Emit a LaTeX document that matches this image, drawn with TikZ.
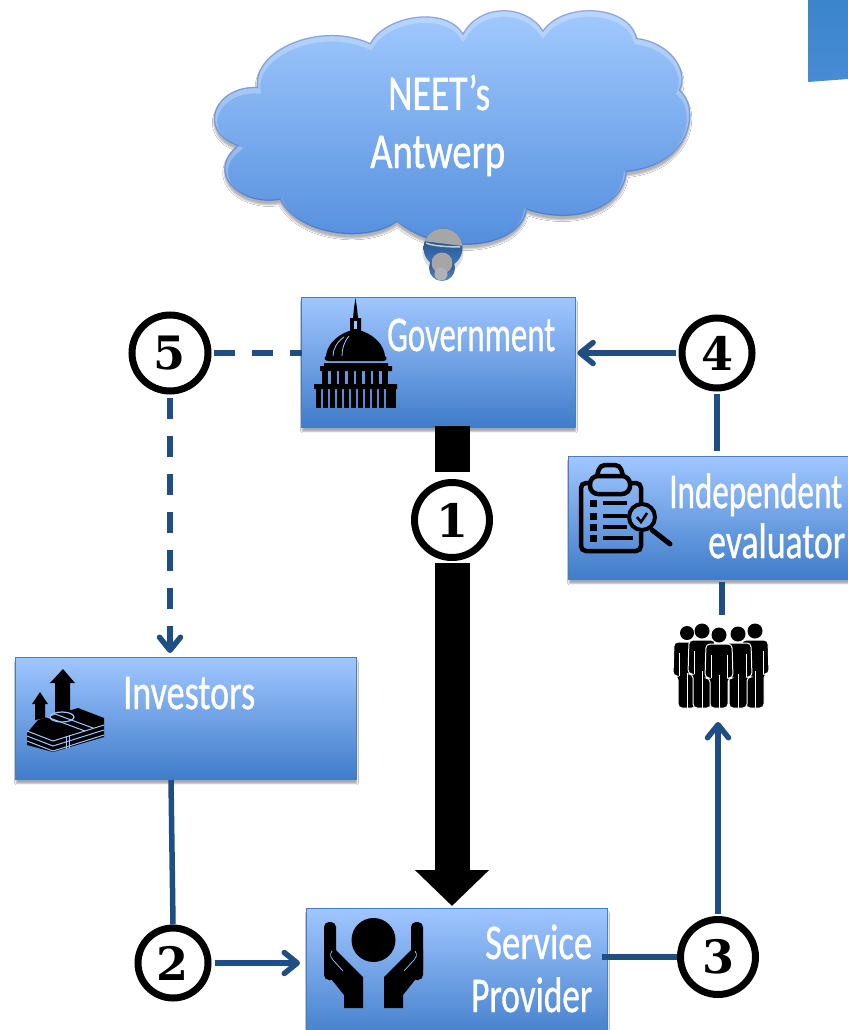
\documentclass[tikz,border=0pt]{standalone}
\usepackage{fontspec}
\usepackage{graphicx}
\setmainfont{Carlito}
\newfontfamily\labfont{Carlito}[FakeBold=0.9]
\newfontfamily\digitfont{DejaVu Serif}
\usetikzlibrary{arrows.meta,shadows,shadows.blur,calc}
\definecolor{linkblue}{HTML}{1F4E85}
\definecolor{boxtop}{HTML}{A0C6FF}
\definecolor{boxmid}{HTML}{7CA9EE}
\definecolor{boxbot}{HTML}{3F7CC9}
\definecolor{boxedge}{HTML}{4B7DBB}
\definecolor{cloudtop}{HTML}{A5CCFF}
\definecolor{cloudmid}{HTML}{8DB9FB}
\definecolor{cloudbot}{HTML}{4F8BDB}
\definecolor{cornertop}{HTML}{3A85CC}
\definecolor{cornerbot}{HTML}{488CD4}
\newcommand{\lbl}[2]{\resizebox{#1pt}{\height}{\labfont\fontsize{50}{50}\selectfont #2}}
\newcommand{\thecloud}{(257,87) .. controls (252,50) and (320,20) .. (370,43)
 .. controls (385,15) and (445,5) .. (463,33)
 .. controls (480,3) and (525,3) .. (543,30)
 .. controls (565,0) and (630,5) .. (637,38)
 .. controls (670,42) and (690,70) .. (680,90)
 .. controls (700,105) and (695,165) .. (627,172)
 .. controls (622,212) and (570,225) .. (527,210)
 .. controls (520,250) and (440,258) .. (397,222)
 .. controls (370,243) and (300,238) .. (280,200)
 .. controls (238,207) and (205,172) .. (237,146)
 .. controls (195,130) and (215,85) .. (257,87) -- cycle}
\tikzset{
 x=1pt,y=-1pt,
 bluebox/.style={rectangle,draw=boxedge,line width=1.3pt,top color=boxtop,middle color=boxmid,bottom color=boxbot,anchor=north west,inner sep=0pt,outer sep=0pt,
   blur shadow={shadow xshift=0.5pt,shadow yshift=-4pt,shadow blur steps=4,shadow opacity=35,shadow blur radius=1.5pt}},
 lab/.style={text=white,inner sep=0pt,anchor=base west},
 numc/.style={circle,draw=black,fill=white,line width=7pt,inner sep=0pt,text=black,font=\digitfont\bfseries\fontsize{46}{46}\selectfont},
 link/.style={draw=linkblue,line width=5.5pt},
 dashlink/.style={draw=linkblue,line width=6pt,dash pattern=on 21pt off 17pt},
 tip/.style={-{Straight Barb[length=13pt,width=21pt,line width=5.5pt,round]}},
 bigarrow/.style={draw=black,line width=35pt},
 ink/.style={fill=black,draw=none}
}
\begin{document}
\begin{tikzpicture}
\useasboundingbox (0,0) rectangle (848,1030);
\clip (0,0) rectangle (848,1030);
\fill[white] (0,0) rectangle (848,1030);
% corner shape
\shade[top color=cornertop,bottom color=cornerbot] (808,0) -- (848,0) -- (848,79) -- (808,82) -- cycle;

% cloud
\path[top color=cloudtop,middle color=cloudmid,bottom color=cloudbot,
  blur shadow={shadow xshift=0pt,shadow yshift=-4pt,shadow blur steps=4,shadow opacity=30,shadow blur radius=1.5pt}] \thecloud;
\begin{scope}
 \clip \thecloud;
 \draw[white,opacity=.25,line width=7pt,shift={(0,3)}] \thecloud;
 \draw[black!50!blue,opacity=.22,line width=2.5pt] \thecloud;
\end{scope}
% bubbles
\fill[black!30,opacity=.45] (443,252) circle (20.5);
\shade[top color=boxbot!55!black,bottom color=boxbot] (443,248) circle (19.5);
\begin{scope}
 \clip (443,248) circle (19.5);
 \fill[black!35] (423,241) -- (463,246) -- (463,225) -- (423,225) -- cycle;
 \draw[white,opacity=.7,line width=1.5pt] (426,243) .. controls (432,246) and (450,247) .. (460,247);
\end{scope}
\shade[top color=boxbot!55!black,bottom color=boxbot!90!white] (442,268) circle (13);
\fill[black!35] (442,263) circle (10.5);
\fill[black!30] (441,274) circle (6.5);

% boxes
\node[bluebox,minimum width=273.7pt,minimum height=129.7pt] (gov) at (301.65,297.65) {};
\node[bluebox,minimum width=292pt,minimum height=122.7pt] (eval) at (568.65,456.65) {};
\node[bluebox,minimum width=340.7pt,minimum height=121.7pt] (inv) at (15.65,657.65) {};
\node[bluebox,minimum width=300.7pt,minimum height=135pt] (serv) at (306.65,908.65) {};

% number circles
\node[numc,minimum size=76pt] (c5) at (170,353) {5};
\node[numc,minimum size=70pt] (c4) at (717,353) {4};
\node[numc,minimum size=75pt] (c1) at (452,520) {1};
\node[numc,minimum size=70pt] (c2) at (173,963) {2};
\node[numc,minimum size=75pt] (c3) at (718,957) {3};

% connector ends
\coordinate (crowdtop) at (722,615);
\coordinate (crowdbot) at (718,722);
\coordinate (govdrop) at (452,426);
\coordinate (c1top) at (452,472);
\coordinate (c1bot) at (452,563);
\coordinate (servtop) at (452,906);
\coordinate (invstart) at (171,780);
\coordinate (servleft) at (300,963);
\coordinate (servright) at (602,957);
\coordinate (dashend) at (170,655);

% connectors
\draw[bigarrow] (govdrop) -- (c1top);
\draw[bigarrow,-{Triangle[length=36pt,width=72pt]}] (c1bot) -- (servtop);
\draw[link,tip] ([xshift=-3pt]c4.west) -- ([xshift=2pt]gov.east |- c4.west);
\draw[link] ([yshift=-2pt]c4.south) -- ([yshift=6pt]c4.south |- eval.north);
\draw[link] ([yshift=-3pt]crowdtop |- eval.south) -- (crowdtop);
\draw[link,tip] ([yshift=2pt]c3.north) -- (crowdbot);
\draw[link] (servright) -- (c3.west);
\draw[link] (invstart) -- (c2.north);
\draw[link,tip] ([xshift=3pt]c2.east) -- (servleft);
\draw[dashlink] ([xshift=2pt]c5.east) -- (c5.east -| gov.west);
\draw[dashlink] ([yshift=-3pt]c5.south) -- ([yshift=14pt]dashend);
\draw[link,tip] ([yshift=24pt]dashend) -- ([yshift=2pt]dashend);

% labels
\node[lab] (t1) at (388,110) {\lbl{102}{NEET’s}};
\node[lab] (t2) at (370,168) {\lbl{135}{Antwerp}};
\node[lab] (t3) at (387,351) {\lbl{168}{Government}};
\node[lab] (t4) at (669,508) {\lbl{173}{Independent}};
\node[lab] (t5) at (708,558) {\lbl{137}{evaluator}};
\node[lab] (t6) at (123,709) {\lbl{132}{Investors}};
\node[lab] (t7) at (485,959) {\lbl{107}{Service}};
\node[lab] (t8) at (471,1012) {\lbl{121}{Provider}};

% capitol icon
\fill[ink] (355.5,298) -- (357,308) -- (358,318) -- (361,318) -- (361,331) -- (362,331) .. controls (376,336) and (384,346) .. (385,356)
  .. controls (388,358) and (386,361) .. (383,361) -- (329,361) .. controls (325,361) and (323,358) .. (326,356)
  .. controls (327,346) and (335,336) .. (349,331) -- (350,331) -- (350,318) -- (353,318) -- (354,308) -- cycle;
\draw[boxtop,line width=.8pt] (349,336) .. controls (344,342) and (342,349) .. (342,356);
\draw[boxtop,line width=.8pt] (344,337) .. controls (337,342) and (333,349) .. (333,356);
\fill[boxtop] (354,321) rectangle (357,329);
\fill[ink] (320,366) rectangle (392,371) (324,363) rectangle (388,366) (314,384) rectangle (397,389);
\foreach \cx in {322,330.5,339,347.5,356,364.5,373,381.5} {\fill[ink] (\cx,371) rectangle ++(6,13);}
\foreach \cx in {316,323,330,337,344,351,358,365,372,379,386,391} {\fill[ink] (\cx,389) rectangle ++(5,19);}

% clipboard icon
\draw[black,line width=4.5pt,rounded corners=5pt] (589,483) -- (581,483) -- (581,551) -- (641,551) -- (641,532);
\draw[black,line width=4.5pt,rounded corners=5pt] (630,483) -- (641,483) -- (641,503);
\draw[black,line width=4.5pt,rounded corners=8pt] (590,476) rectangle (630,494);
\draw[black,line width=4.5pt,rounded corners=5pt] (597,476) -- (600,465) -- (620,465) -- (623,476);
\foreach \ly/\lx in {503/627,516/627,527/627,538/633} {
 \fill[ink] (590,\ly-3.5) rectangle (597,\ly+3.5);
 \fill[ink] (603,\ly-2) rectangle (\lx,\ly+2);
}
\fill[boxtop!60!boxbot] (642,517) circle (12);
\draw[black,line width=4pt] (642,517) circle (13);
\draw[black,line width=2.5pt] (637,517) -- (641,522) -- (647,513);
\draw[black,line width=5pt,line cap=round] (652,530) -- (670,544);

% money icon
\fill[ink] (63,669) -- (75,683) -- (70,683) -- (70,712) -- (55,716) -- (55,683) -- (50,683) -- cycle;
\fill[ink] (40,692) -- (48,704) -- (45,704) -- (45,718) -- (35,720) -- (35,704) -- (32,704) -- cycle;
\fill[ink] (27,733) -- (38,720) -- (78,708) -- (104,718) -- (104,737) -- (53,752) -- (27,745) -- cycle;
\foreach \dy in {0,5,10} {\draw[boxtop,line width=1pt] (27,731+\dy) -- (53,741+\dy) -- (104,725+\dy);}
\draw[boxtop,line width=1pt] (47,717) -- (85,731) (55,714) -- (93,728);
\draw[boxtop,line width=1pt] (66,736) -- (66,749) (69,735) -- (69,748);
\draw[boxtop,line width=1.2pt] (62,717) ellipse (12 and 5);

% hands icon
\fill[ink] (373.5,940) circle (22);
\foreach \sx/\ox in {1/0,-1/747} {
 \begin{scope}[shift={(\ox,0)},xscale=\sx]
  \fill[ink,rounded corners=5pt] (324,980) -- (324,922) -- (336,922) -- (336,980) -- cycle;
  \fill[ink] (324,950) -- (336,950) -- (363,977) -- (363,1008) -- (344,1008) -- (344,995) -- (324,970) -- cycle;
  \draw[boxtop,line width=.7pt] (332,951) .. controls (329,955) and (331,958) .. (333,960) -- (343,971);
 \end{scope}
}

% crowd icon
\foreach \hx/\hy/\bw in {687/633/7,755/631/7.5,702/631/7.5,738/634/7.5,719/635/7.5} {
 \draw[white,fill=black,line width=1pt,rounded corners=4pt] (\hx-13,\hy+9) -- (\hx+13,\hy+9) -- (\hx+14,\hy+43) -- (\hx+9,\hy+43) -- (\hx+9,708) -- (\hx-9,708) -- (\hx-9,\hy+43) -- (\hx-14,\hy+43) -- cycle;
 \draw[white,line width=1pt] (\hx,\hy+40) -- (\hx,709) (\hx-8,\hy+20) -- (\hx-8,\hy+43) (\hx+8,\hy+20) -- (\hx+8,\hy+43);
 \fill[black] (\hx,\hy) circle (\bw);
}
\end{tikzpicture}
\end{document}
